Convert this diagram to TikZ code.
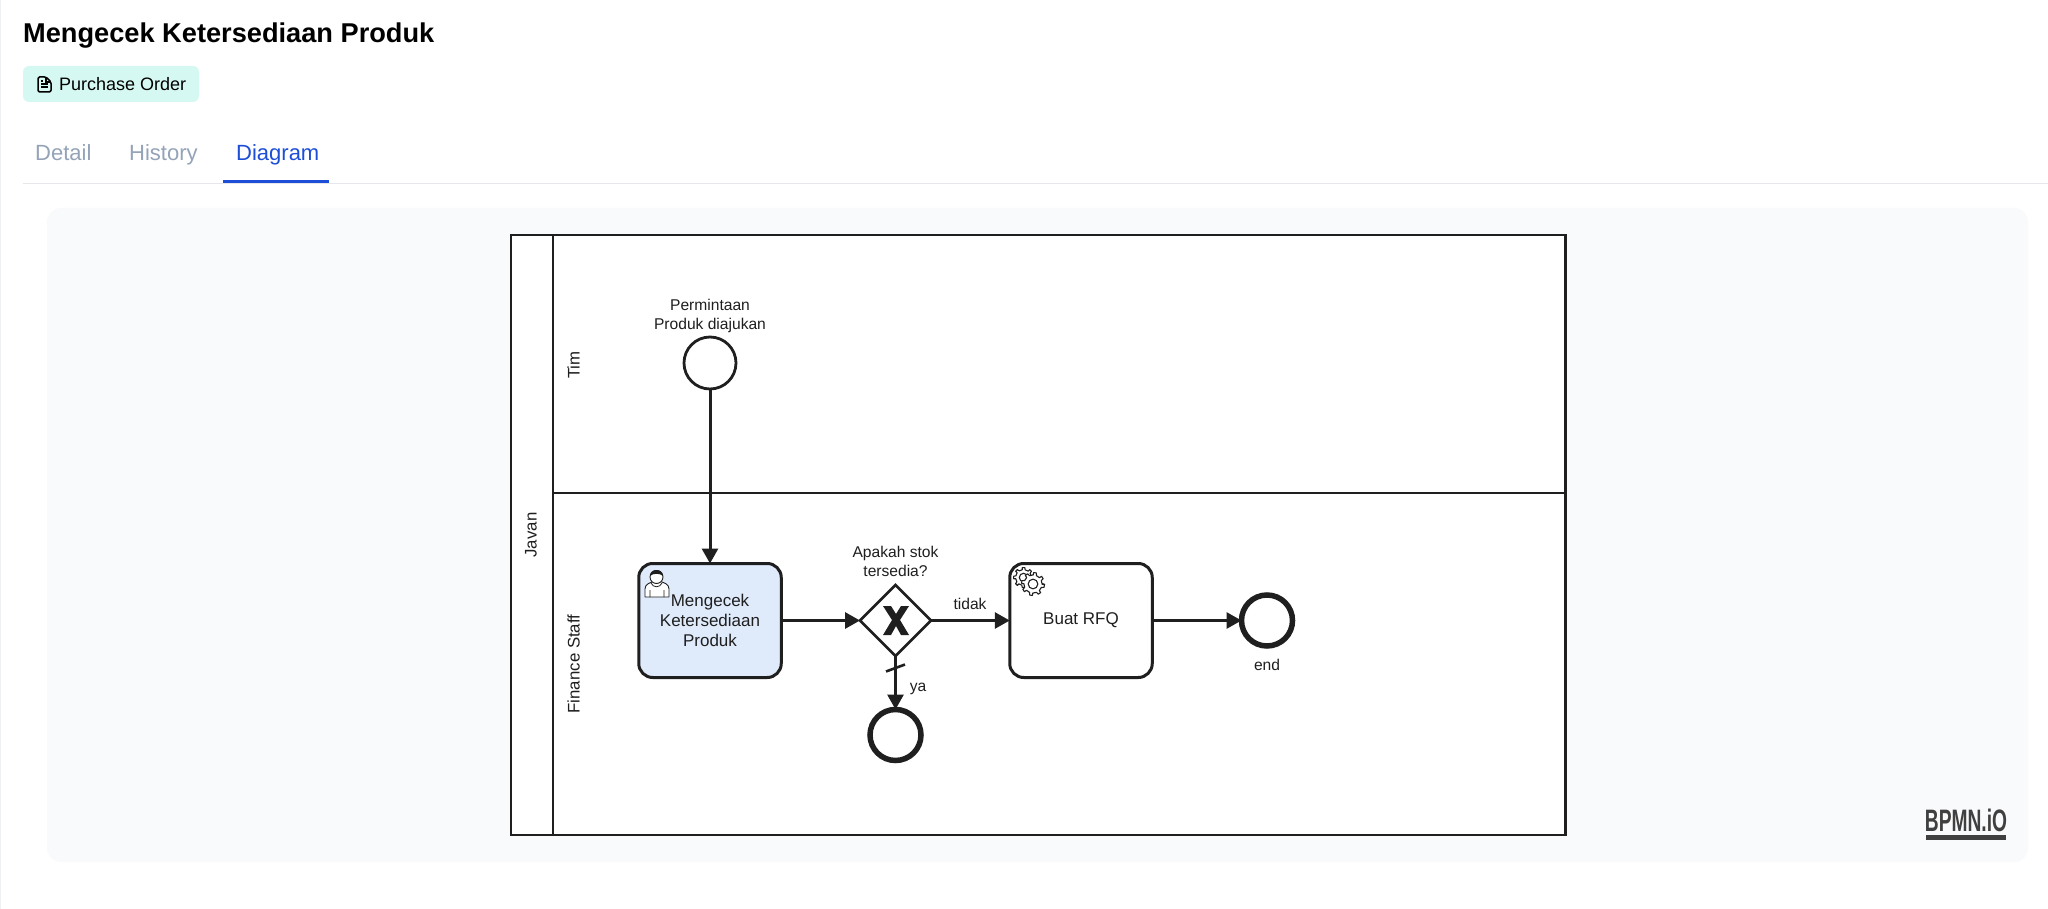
\documentclass[tikz,border=0pt]{standalone}
\usepackage{fontspec}
\setmainfont{Liberation Sans}
\newfontfamily\uifont{Liberation Sans}
\usetikzlibrary{arrows.meta,shapes.geometric,calc}
\definecolor{ink}{HTML}{1F1F1F}
\definecolor{panel}{HTML}{F9FAFC}
\definecolor{mint}{HTML}{D5F9F2}
\definecolor{taskblue}{HTML}{DFEAFB}
\definecolor{tabgrey}{HTML}{94A3B8}
\definecolor{tabblue}{HTML}{1D4ED8}
\definecolor{rule}{HTML}{E5E7EB}
\definecolor{logo}{HTML}{404040}
\newcommand{\fs}[2]{\fontsize{#1}{#2}\selectfont}
\newcommand{\geardraw}[4]{% x y radius teeth-offset
  \begin{scope}[shift={(#1,#2)}]
    \draw[draw=ink,fill=white,line width=1.1pt,line join=round]
      (#4-9:#3)
      \foreach \a in {0,45,...,315}{
        -- ($(\a+#4-9:#3*0.78)$) -- ($(\a+#4-7:#3)$) -- ($(\a+#4+7:#3)$) -- ($(\a+#4+13:#3*0.78)$)
        -- ($(\a+#4+32:#3*0.78)$)
      } -- cycle;
    \draw[draw=ink,fill=white,line width=1.1pt] (0,0) circle[radius=#3*0.42];
  \end{scope}}
\tikzset{
  lanebox/.style={draw=ink,line width=2pt,fill=white,rectangle,inner sep=0pt,outer sep=0pt},
  taskbox/.style={draw=ink,line width=3pt,rectangle,rounded corners=14pt,minimum width=142.5pt,minimum height=114pt,inner sep=0pt,outer sep=0pt,align=center,font=\fs{17}{20.2},text=ink},
  startev/.style={draw=ink,fill=white,line width=2.8pt,circle,minimum size=52pt,inner sep=0pt,outer sep=0pt},
  endev/.style={draw=ink,fill=white,line width=5.5pt,circle,minimum size=51pt,inner sep=0pt,outer sep=0pt},
  gate/.style={draw=ink,fill=white,line width=2.8pt,diamond,aspect=1,minimum width=71pt,minimum height=71pt,inner sep=0pt,outer sep=0pt},
  flow/.style={draw=ink,line width=3pt,-{Triangle[length=15pt,width=16pt,fill=ink]}},
  lbl/.style={inner sep=0pt,align=center,text=ink,font=\fs{15.6}{19}},
  lanelbl/.style={inner sep=0pt,rotate=90,text=ink,font=\fs{16.8}{19}},
  tab/.style={inner sep=0pt,font=\uifont\fs{22}{26}},
}
\begin{document}
\begin{tikzpicture}[x=1pt,y=-1pt]
\useasboundingbox (0,0) rectangle (2048,909);
\fill[white] (0,0) rectangle (2048,909);
% page chrome
\node[inner sep=0pt,anchor=base west,text=black,font=\uifont\bfseries\fs{27.2}{32}] (title) at (23,43) {Mengecek Ketersediaan Produk};
\node[fill=mint,rounded corners=6pt,minimum width=176pt,minimum height=36pt,inner sep=0pt] (badge) at (111,84) {};
\node[inner sep=0pt,anchor=base west,text=black,font=\uifont\fs{18}{22}] (badgetext) at (59,90.5) {Purchase Order};
\draw[black,line width=1.5pt,line join=round,rounded corners=1.5pt] (38,77) -- (46,77) -- (51,82) -- (51,92) -- (38,92) -- cycle;
\draw[black,line width=1.2pt] (46,77) -- (46,82) -- (51,82) (41,84) -- (48,84) (41,87) -- (48,87) (41,81) -- (43,81);
\node[tab,text=tabgrey,anchor=base west] (tabdetail) at (35,161) {Detail};
\node[tab,text=tabgrey,anchor=base west] (tabhistory) at (129,161) {History};
\node[tab,text=tabblue,anchor=base west] (tabdiagram) at (236,161) {Diagram};
\draw[rule,line width=1pt] (23,183.5) -- (2048,183.5);
\fill[tabblue] (223,180.5) rectangle (329,183);
\draw[rule!60,line width=0.8pt] (0.5,0) -- (0.5,909);
\fill[panel,rounded corners=14pt] (47,208) rectangle (2028,862);
% pool and lanes
\node[lanebox,minimum width=1055pt,minimum height=599.5pt,anchor=north west] (pool) at (510.5,235.5) {};
\node[lanebox,minimum width=1012pt,minimum height=257pt,anchor=north west] (lanetim) at (553,235.5) {};
\node[lanebox,minimum width=1012pt,minimum height=342.5pt,anchor=north west] (lanefin) at (553,492.5) {};
\node[lanelbl] (ljavan) at (531,535) {Javan};
\node[lanelbl] (ltim) at (573.5,365) {Tim};
\node[lanelbl] (lfin) at (573.5,664) {Finance Staff};
% flow objects
\node[startev] (start) at (710,363) {};
\node[taskbox,fill=taskblue] (check) at (710,620.5) {Mengecek\\Ketersediaan\\Produk};
\node[gate] (gw) at (895.5,620.5) {};
\node[taskbox,fill=white] (rfq) at (1081,620.5) {Buat RFQ};
\node[endev] (endb) at (1267,620.5) {};
\node[endev] (enda) at (895.5,735) {};
% connectors
\draw[flow] (start.south) -- (check.north);
\draw[flow] (check.east) -- (gw.west);
\draw[flow] (gw.east) -- (rfq.west);
\draw[flow] (rfq.east) -- (endb.west);
\draw[flow] (gw.south) -- (enda.north);
\draw[ink,line width=2.6pt] (886,671.5) -- (905,664.5);
% gateway X marker
\fill[ink] (883,606) -- (891,606) -- (896,614) -- (901,606) -- (909,606) -- (900,620) -- (909,635) -- (901,635) -- (896,626) -- (891,635) -- (883,635) -- (892,620) -- cycle;
% labels
\node[lbl] (lstart) at (710,315.5) {Permintaan\\Produk diajukan};
\node[lbl] (lgw) at (895.5,561.5) {Apakah stok\\tersedia?};
\node[lbl] (ltidak) at (970,604) {tidak};
\node[lbl,anchor=base] (lya) at (918,691) {ya};
\node[lbl] (lend) at (1267,665) {end};
% user icon
\draw[ink,line width=0.9pt,fill=white,line join=round] (645,597) -- (645,589) .. controls (645,584) and (650,583) .. (652,582) -- (662,582) .. controls (664,583) and (669,584) .. (669,589) -- (669,597) -- cycle;
\draw[ink,line width=0.9pt,fill=white] (656.5,577) circle[radius=6.5];
\fill[ink] (650,576) .. controls (650,568) and (663,568) .. (663,576) .. controls (660,573) and (653,573) .. (650,576) -- cycle;
\draw[ink,line width=0.8pt] (650,597) -- (650,590) (664,597) -- (664,590) (651,583) .. controls (653,588) and (660,588) .. (662,583);
% service icon
\geardraw{1023.5}{577.5}{10}{0}
\geardraw{1033}{584}{11.5}{10}
% logo
\node[inner sep=0pt,text=logo,font=\bfseries\fs{31}{32},xscale=0.62] (bpmnlogo) at (1966,820) {BPMN.iO};
\fill[logo] (1926,834.5) rectangle (2006,840);
\end{tikzpicture}
\end{document}
